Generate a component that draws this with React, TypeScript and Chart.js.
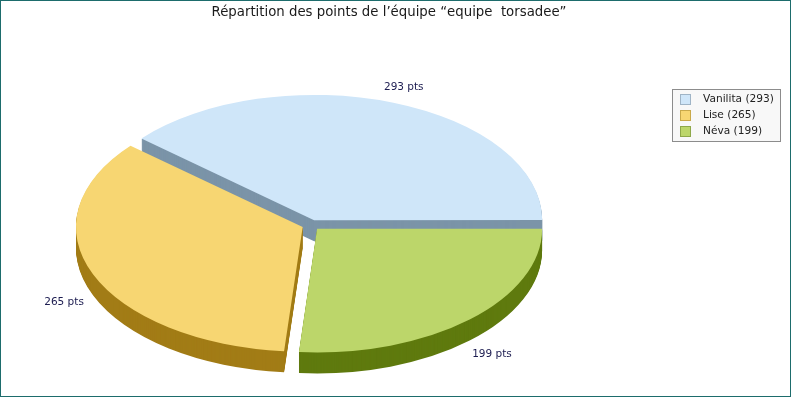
import { useEffect, useRef } from 'react';
import { Chart, registerables } from 'chart.js';

Chart.register(...registerables);

// ---- data ----
const TITLE = 'Répartition des points de l’équipe “equipe  torsadee”';
const PLAYERS = ['Vanilita', 'Lise', 'Néva'];
const POINTS = [293, 265, 199];
const UNIT = 'pts';

// ---- styles ----
const TOP_COLORS = ['#cfe6f9', '#f7d672', '#bcd66a'];
const SIDE_COLORS = ['#7b94a8', '#a27c16', '#5f7a0e'];
const SWATCH_BORDERS = ['#9fb4c6', '#c9a94a', '#8ea84a'];
const FONT = '"DejaVu Sans", Verdana, sans-serif';
const DEPTH = 21;
const TILT = 0.55;
const RADIUS = 225;
const EXPLODE = 9;
const LABEL_GAP = 42;

function pieTransform(ctx: CanvasRenderingContext2D, cx: number, cy: number, dy: number) {
  ctx.translate(cx, cy + dy);
  ctx.scale(-1, TILT);
  ctx.translate(-cx, -cy);
}

const pie3d = {
  id: 'pie3d',
  beforeDraw(chart: any) {
    const ctx = chart.ctx as CanvasRenderingContext2D;
    ctx.save();
    ctx.fillStyle = '#ffffff';
    ctx.fillRect(0, 0, chart.width, chart.height);
    ctx.restore();
  },
  beforeDatasetsDraw(chart: any) {
    const ctx = chart.ctx as CanvasRenderingContext2D;
    const arcs = chart.getDatasetMeta(0).data;
    ctx.save();
    if (!arcs.length) return;
    const cx = arcs[0].x;
    const cy = arcs[0].y;
    for (let d = DEPTH; d >= 1; d--) {
      ctx.save();
      pieTransform(ctx, cx, cy, d);
      arcs.forEach((arc: any, i: number) => {
        const wall = Object.create(arc);
        wall.options = { ...arc.options, backgroundColor: SIDE_COLORS[i], borderWidth: 0 };
        arc.draw.call(wall, ctx);
      });
      ctx.restore();
    }
    pieTransform(ctx, cx, cy, 0);
  },
  afterDatasetsDraw(chart: any) {
    const ctx = chart.ctx as CanvasRenderingContext2D;
    ctx.restore();
    const arcs = chart.getDatasetMeta(0).data;
    if (arcs.length) {
      const cx = arcs[0].x;
      const cy = arcs[0].y;
      ctx.save();
      ctx.font = `10.5px ${FONT}`;
      ctx.fillStyle = '#1c1c50';
      ctx.textAlign = 'center';
      ctx.textBaseline = 'middle';
      arcs.forEach((arc: any, i: number) => {
        const mid = (arc.startAngle + arc.endAngle) / 2;
        const L = arc.outerRadius + LABEL_GAP;
        const s = Math.sin(mid);
        const x = cx - Math.cos(mid) * L;
        const y = cy + s * L * TILT + (s > 0 ? DEPTH : 0);
        ctx.fillText(`${POINTS[i]} ${UNIT}`, x, y);
      });
      ctx.restore();
    }
  },
  afterDraw(chart: any) {
    const ctx = chart.ctx as CanvasRenderingContext2D;
    const W = chart.width;
    const H = chart.height;
    ctx.save();
    // title
    ctx.font = `13.3px ${FONT}`;
    ctx.fillStyle = '#1a1a1a';
    ctx.textAlign = 'center';
    ctx.textBaseline = 'alphabetic';
    ctx.fillText(TITLE, 389, 16);
    // legend box
    const lx = 672.5, ly = 89.5, lw = 108, lh = 52;
    ctx.fillStyle = '#f8f8f8';
    ctx.fillRect(lx, ly, lw, lh);
    ctx.strokeStyle = '#8c8c8c';
    ctx.lineWidth = 1;
    ctx.strokeRect(lx, ly, lw, lh);
    ctx.font = `10.6px ${FONT}`;
    ctx.textAlign = 'left';
    ctx.textBaseline = 'middle';
    PLAYERS.forEach((p, i) => {
      const ry = 99.5 + i * 15.75;
      const top = Math.round(ry - 4.5);
      ctx.fillStyle = TOP_COLORS[i];
      ctx.fillRect(681, top, 9, 9);
      ctx.strokeStyle = SWATCH_BORDERS[i];
      ctx.strokeRect(680.5, top - 0.5, 10, 10);
      ctx.fillStyle = '#222222';
      ctx.fillText(`${p} (${POINTS[i]})`, 703, ry);
    });
    // frame
    ctx.strokeStyle = '#1d6c6c';
    ctx.lineWidth = 1;
    ctx.strokeRect(0.5, 0.5, W - 1, H - 1);
    ctx.restore();
  },
};

export default function App() {
  const ref = useRef<HTMLCanvasElement | null>(null);
  useEffect(() => {
    const canvas = ref.current;
    if (!canvas) return;
    const chart = new Chart(canvas, {
      type: 'pie',
      data: {
        labels: PLAYERS,
        datasets: [
          {
            data: POINTS,
            backgroundColor: TOP_COLORS,
            borderWidth: 0,
            offset: EXPLODE * 4,
            hoverOffset: 0,
            clip: false as any,
            rotation: 270,
            radius: RADIUS,
          } as any,
        ],
      },
      options: {
        responsive: false,
        animation: false,
        events: [],
        layout: { padding: { left: 0, right: 169, top: 53, bottom: 0 } },
        plugins: {
          legend: { display: false },
          title: { display: false },
          tooltip: { enabled: false },
        },
      },
      plugins: [pie3d],
    });
    return () => chart.destroy();
  }, []);
  return (
    <div style={{ position: 'absolute', left: 0, top: 0, width: 791, height: 397 }}>
      <canvas ref={ref} width={791} height={397} style={{ display: 'block', width: 791, height: 397 }} />
    </div>
  );
}
